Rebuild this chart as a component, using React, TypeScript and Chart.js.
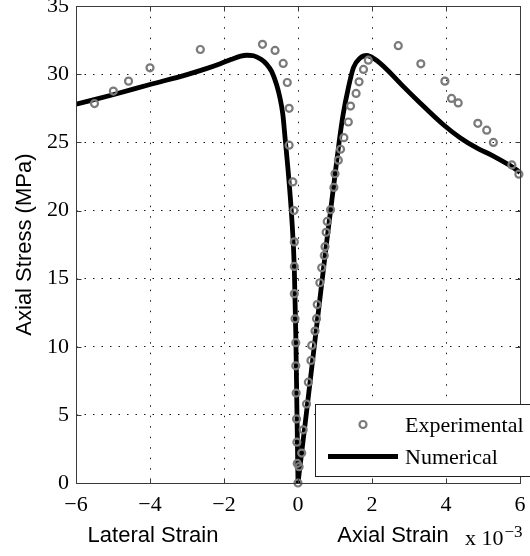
import React, { useEffect, useRef } from "react";
import { Chart, registerables } from "chart.js";

Chart.register(...registerables);

// ---- data ----
const xTickValues = [-6, -4, -2, 0, 2, 4, 6];
const yTickValues = [0, 5, 10, 15, 20, 25, 30, 35];

const expLateralStrain = [-5.5, -4.99, -4.58, -4.0, -2.64, -0.96, -0.62, -0.4, -0.29, -0.24, -0.24, -0.14, -0.11, -0.1, -0.1, -0.1, -0.08, -0.06, -0.06, -0.05, -0.04, -0.03, -0.02, 0];
const expLateralStress = [27.85, 28.77, 29.5, 30.48, 31.82, 32.2, 31.75, 30.8, 29.4, 27.5, 24.8, 22.1, 20.0, 17.7, 15.9, 13.9, 12.05, 10.3, 8.6, 6.6, 4.7, 3.0, 1.44, 0];

const expAxialStrain = [0.03, 0.1, 0.14, 0.23, 0.28, 0.35, 0.37, 0.46, 0.5, 0.52, 0.59, 0.64, 0.71, 0.73, 0.76, 0.79, 0.88, 0.97, 1.0, 1.09, 1.15, 1.24, 1.36, 1.42, 1.57, 1.65, 1.77, 1.9, 2.71, 3.32, 3.97, 4.15, 4.33, 4.86, 5.1, 5.28, 5.78, 5.97];
const expAxialStress = [1.2, 2.2, 3.9, 5.8, 7.4, 9.0, 10.1, 11.15, 12.06, 13.1, 14.7, 15.8, 16.7, 17.35, 18.4, 19.2, 20.06, 21.7, 22.7, 23.7, 24.5, 25.35, 26.5, 27.67, 28.6, 29.45, 30.36, 31.04, 32.1, 30.77, 29.5, 28.23, 27.9, 26.4, 25.9, 25.0, 23.35, 22.67];

const numLateralStrain = [-6, -5, -4, -3, -2.5, -2.1, -1.8, -1.55, -1.39, -1.2, -1.0, -0.85, -0.71, -0.58, -0.49, -0.41, -0.35, -0.26, -0.17, -0.1, -0.06, -0.03, 0];
const numLateralStress = [27.8, 28.5, 29.25, 29.98, 30.4, 30.78, 31.1, 31.33, 31.4, 31.36, 31.1, 30.75, 30.2, 29.25, 28.3, 27.06, 25.35, 22.7, 19.5, 15.8, 11.0, 5.5, 0];

const numAxialStrain = [0, 0.23, 0.46, 0.78, 1.0, 1.11, 1.22, 1.36, 1.5, 1.68, 1.86, 2.08, 2.4, 2.85, 3.3, 3.93, 4.38, 4.83, 5.28, 5.73, 6];
const numAxialStress = [0, 5.2, 10.5, 17.8, 22.6, 25.0, 27.06, 29.0, 30.5, 31.2, 31.38, 31.1, 30.36, 29.1, 27.9, 26.3, 25.35, 24.6, 24.0, 23.3, 22.8];

const legendLabels = ["Experimental", "Numerical"];
const yAxisTitle = "Axial Stress (MPa)";
const lateralLabel = "Lateral Strain";
const axialLabel = "Axial Strain";
const scaleFactorText = "x 10";
const scaleFactorExp = "\u22123";

const zip = (xs: number[], ys: number[]) => xs.map((x, i) => ({ x, y: ys[i] }));

const SERIF = "'Liberation Serif', 'Times New Roman', serif";
const SANS = "'Liberation Sans', Arial, sans-serif";
const GREY = "#7a7a7a";
const FRAME = "#3a3a3a";

const framePlugin = {
  id: "frame",
  afterDatasetsDraw(chart: any) {
    const { ctx, chartArea: a, scales } = chart;
    ctx.save();
    ctx.setLineDash([]);
    ctx.strokeStyle = FRAME;
    ctx.lineWidth = 1;
    const l = Math.round(a.left) + 0.5;
    const r = Math.round(a.right) + 0.5;
    const t = Math.round(a.top) + 0.5;
    const b = Math.round(a.bottom) + 0.5;
    ctx.strokeRect(l, t, r - l, b - t);
    const tl = 5;
    ctx.beginPath();
    xTickValues.forEach((v) => {
      const px = Math.round(scales.x.getPixelForValue(v)) + 0.5;
      ctx.moveTo(px, b);
      ctx.lineTo(px, b - tl);
      ctx.moveTo(px, t);
      ctx.lineTo(px, t + tl);
    });
    yTickValues.forEach((v) => {
      const py = Math.round(scales.y.getPixelForValue(v)) + 0.5;
      ctx.moveTo(l, py);
      ctx.lineTo(l + tl, py);
      ctx.moveTo(r, py);
      ctx.lineTo(r - tl, py);
    });
    ctx.stroke();
    ctx.restore();
  },
};

const annotationPlugin = {
  id: "annot",
  afterDraw(chart: any) {
    const { ctx, chartArea: a } = chart;
    ctx.save();
    ctx.fillStyle = "#000";
    ctx.textBaseline = "alphabetic";
    ctx.font = `22px ${SANS}`;
    ctx.textAlign = "center";
    ctx.fillText(lateralLabel, a.left + 77, a.bottom + 59);
    ctx.fillText(axialLabel, a.left + 317, a.bottom + 59);
    ctx.textAlign = "left";
    ctx.font = `22px ${SERIF}`;
    ctx.fillText(scaleFactorText, a.left + 389, a.bottom + 62);
    const w = ctx.measureText(scaleFactorText).width;
    ctx.font = `17px ${SERIF}`;
    ctx.fillText(scaleFactorExp, a.left + 389 + w + 1, a.bottom + 54);

    // legend
    const lx = a.right - 205;
    const ly = a.bottom - 79;
    ctx.setLineDash([]);
    ctx.fillStyle = "#fff";
    ctx.fillRect(lx, ly, 240, 72);
    ctx.strokeStyle = "#222";
    ctx.lineWidth = 1;
    ctx.strokeRect(lx + 0.5, ly + 0.5, 240, 72);
    ctx.beginPath();
    ctx.strokeStyle = GREY;
    ctx.lineWidth = 2.2;
    ctx.arc(lx + 48, ly + 20.5, 3.5, 0, Math.PI * 2);
    ctx.stroke();
    ctx.beginPath();
    ctx.strokeStyle = "#000";
    ctx.lineWidth = 4.8;
    ctx.moveTo(lx + 13, ly + 52.5);
    ctx.lineTo(lx + 83, ly + 52.5);
    ctx.stroke();
    ctx.fillStyle = "#000";
    ctx.font = `22px ${SERIF}`;
    ctx.textAlign = "left";
    ctx.fillText(legendLabels[0], lx + 90, ly + 28);
    ctx.fillText(legendLabels[1], lx + 90, ly + 60);
    ctx.restore();
  },
};

export default function App() {
  const canvasRef = useRef<HTMLCanvasElement | null>(null);

  useEffect(() => {
    document.body.style.margin = "0";
    const canvas = canvasRef.current;
    if (!canvas) return;
    const expStyle = {
      showLine: false,
      pointStyle: "circle",
      pointRadius: 3.5,
      pointBorderWidth: 2.2,
      pointBorderColor: GREY,
      pointBackgroundColor: "rgba(0,0,0,0)",
      borderColor: GREY,
      order: 0,
      clip: false,
    };
    const numStyle = {
      showLine: true,
      borderColor: "#000",
      borderWidth: 4.8,
      pointRadius: 0,
      cubicInterpolationMode: "monotone",
      borderJoinStyle: "round",
      order: 1,
    };
    const chart = new Chart(canvas, {
      type: "scatter",
      data: {
        datasets: [
          { label: legendLabels[0], data: zip(expLateralStrain, expLateralStress), ...expStyle },
          { label: legendLabels[0], data: zip(expAxialStrain, expAxialStress), ...expStyle },
          { label: legendLabels[1], data: zip(numLateralStrain, numLateralStress), ...numStyle },
          { label: legendLabels[1], data: zip(numAxialStrain, numAxialStress), ...numStyle },
        ],
      },
      options: {
        responsive: false,
        animation: false,
        devicePixelRatio: 1,
        layout: { padding: { top: 5, right: 10, left: 0, bottom: 0 } },
        plugins: {
          legend: { display: false },
          tooltip: { enabled: false },
          title: { display: false },
        },
        scales: {
          x: {
            type: "linear",
            min: -6,
            max: 6,
            afterBuildTicks: (s: any) => {
              s.ticks = xTickValues.map((v) => ({ value: v }));
            },
            afterFit: (s: any) => {
              s.height = 73;
              s.paddingLeft = 0;
              s.paddingRight = 0;
            },
            ticks: {
              color: "#000",
              padding: 9,
              maxRotation: 0,
              autoSkip: false,
              font: { family: SERIF, size: 22 },
              callback: (v: any) => (Number(v) < 0 ? "\u2212" + Math.abs(Number(v)) : String(v)),
            },
            grid: {
              color: "rgba(0,0,0,0.9)",
              lineWidth: 1,
              drawTicks: false,
            },
            border: { display: false, dash: [1.5, 9] },
          },
          y: {
            type: "linear",
            min: 0,
            max: 35,
            afterBuildTicks: (s: any) => {
              s.ticks = yTickValues.map((v) => ({ value: v }));
            },
            afterFit: (s: any) => {
              s.width = 76;
              s.paddingTop = 0;
              s.paddingBottom = 0;
            },
            ticks: {
              color: "#000",
              padding: 7,
              autoSkip: false,
              font: { family: SERIF, size: 22 },
            },
            grid: {
              color: "rgba(0,0,0,0.9)",
              lineWidth: 1,
              drawTicks: false,
            },
            border: { display: false, dash: [1.5, 7] },
            title: {
              display: true,
              text: yAxisTitle,
              color: "#000",
              font: { family: SANS, size: 22, weight: "normal" },
              padding: { top: 12, bottom: 0 },
            },
          },
        },
      },
      plugins: [framePlugin, annotationPlugin],
    } as any);
    return () => chart.destroy();
  }, []);

  return (
    <div style={{ position: "absolute", left: 0, top: 0, width: 530, height: 556 }}>
      <canvas ref={canvasRef} width={530} height={556} style={{ display: "block" }} />
    </div>
  );
}
